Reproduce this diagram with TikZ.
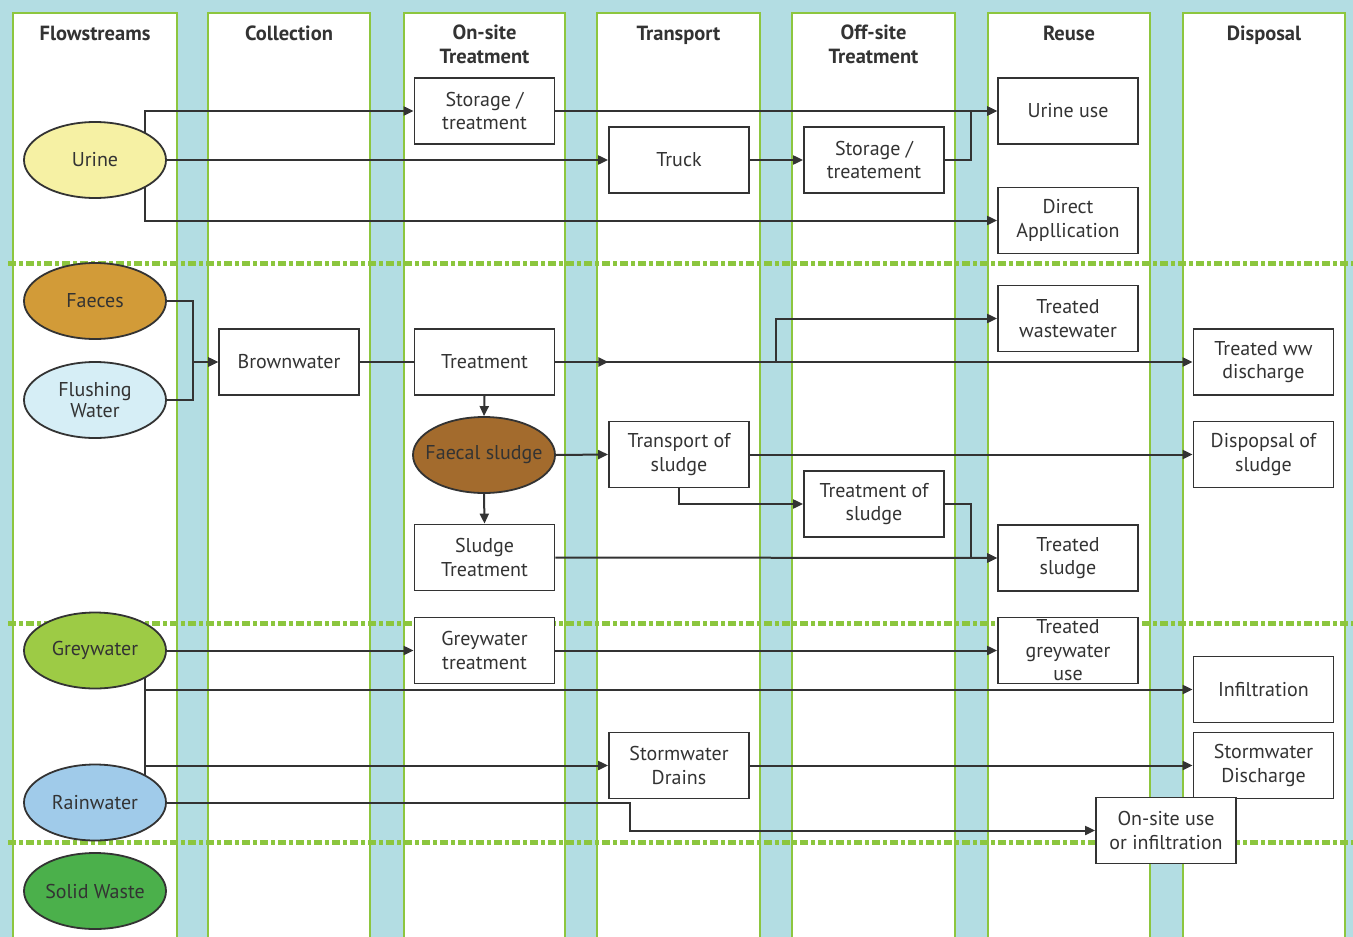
\documentclass[tikz,border=0pt]{standalone}
\usepackage{fontspec}
\setmainfont{PT Sans}
\usetikzlibrary{arrows.meta,shapes.geometric}
\definecolor{bgblue}{HTML}{B3DDE3}
\definecolor{colgreen}{HTML}{8DC63F}
\definecolor{dashgreen}{HTML}{8CC63E}
\definecolor{ink}{HTML}{333333}
\definecolor{urinec}{HTML}{F6F1A4}
\definecolor{faecesc}{HTML}{D29B38}
\definecolor{flushc}{HTML}{D6EEF6}
\definecolor{greyc}{HTML}{9DCB45}
\definecolor{rainc}{HTML}{A0CBEA}
\definecolor{solidc}{HTML}{4BB04B}
\definecolor{sludgec}{HTML}{A36B2D}
\pgfdeclarelayer{bg}\pgfdeclarelayer{lines}
\pgfsetlayers{bg,lines,main}
\tikzset{
  col/.style={fill=white, draw=colgreen, line width=2pt},
  sepline/.style={draw=dashgreen, line width=5pt, dash pattern=on 8pt off 3pt on 4pt off 3pt},
  hdr/.style={font=\bfseries\fontsize{20.5}{24}\selectfont, text=ink, align=center, inner sep=0pt, execute at begin node=\strut},
  box/.style={draw=ink, fill=white, line width=1.8pt, minimum width=140pt, minimum height=66pt, inner sep=0pt, align=center, text=ink, font=\fontsize{20}{23.5}\selectfont},
  flow/.style={ellipse, draw=ink, line width=1.8pt, minimum width=142pt, minimum height=76pt, inner sep=0pt, align=center, text=ink, font=\fontsize{20}{21}\selectfont},
  conn/.style={draw=ink, line width=2pt},
  arr/.style={conn, -{Triangle[length=10pt,width=9pt]}}
}
\begin{document}
\begin{tikzpicture}[x=1pt,y=-1pt]
\useasboundingbox (0,0) rectangle (1353,937);
\begin{pgfonlayer}{bg}
\clip (0,0) rectangle (1353,937);
\fill[bgblue] (0,0) rectangle (1353,937);
\foreach \l/\r in {13/177,208/370,404/565,597/760,792/955,988/1150,1183/1345}{
  \path[col] (\l,13) rectangle (\r,950);
}
\foreach \yy in {263,623,842}{
  \draw[sepline] (8,\yy) -- (1353,\yy);
}
\end{pgfonlayer}

% headers
\node[hdr] (h1) at (95,35.5) {Flowstreams};
\node[hdr] (h2) at (289,35.5) {Collection};
\node[hdr] (h3) at (484.5,48) {On-site\\Treatment};
\node[hdr] (h4) at (678.5,35.5) {Transport};
\node[hdr] (h5) at (873.5,48) {Off-site\\Treatment};
\node[hdr] (h6) at (1069,35.5) {Reuse};
\node[hdr] (h7) at (1264,35.5) {Disposal};

% flowstreams
\node[flow, fill=urinec] (urine) at (95,160) {Urine};
\node[flow, fill=faecesc] (faeces) at (95,301) {Faeces};
\node[flow, fill=flushc] (flush) at (95,400) {Flushing\\Water};
\node[flow, fill=greyc] (grey) at (95,650.5) {Greywater};
\node[flow, fill=rainc] (rain) at (95,802.5) {Rainwater};
\node[flow, fill=solidc] (solid) at (95,891) {Solid Waste};
\node[flow, fill=sludgec, inner xsep=-10pt] (fs) at (484,455) {Faecal sludge};

% boxes
\node[box] (st1) at (484.5,111) {Storage /\\treatment};
\node[box] (truck) at (679,160) {Truck};
\node[box] (st2) at (874,160) {Storage /\\treatement};
\node[box] (uu) at (1068,111) {Urine use};
\node[box] (da) at (1068,220.5) {Direct\\Appllication};
\node[box] (brown) at (289,362) {Brownwater};
\node[box] (treat) at (484.5,362) {Treatment};
\node[box] (tw) at (1068,318.5) {Treated\\wastewater};
\node[box] (twwd) at (1263.5,362) {Treated ww\\discharge};
\node[box] (tos) at (679,454.5) {Transport of\\sludge};
\node[box] (dos) at (1263.5,454.5) {Dispopsal of\\sludge};
\node[box] (trs) at (874,504) {Treatment of\\sludge};
\node[box] (slt) at (484.5,557.5) {Sludge\\Treatment};
\node[box] (tsl) at (1068,558) {Treated\\sludge};
\node[box] (gwt) at (484.5,650.5) {Greywater\\treatment};
\node[box] (tgu) at (1068,650.5) {Treated\\greywater\\use};
\node[box] (inf) at (1263.5,689.5) {Infiltration};
\node[box] (swd) at (679,765.5) {Stormwater\\Drains};
\node[box] (swdis) at (1263.5,765.5) {Stormwater\\Discharge};
\node[box] (osu) at (1166,830.5) {On-site use\\or infiltration};

\begin{pgfonlayer}{lines}
% urine
\draw[arr] ([xshift=50pt]urine.center) |- (st1.west);
\draw[arr] ([xshift=50pt]urine.center) |- (da.west);
\draw[arr] (urine.east) -- (truck.west);
\draw[arr] (truck.east) -- (st2.west);
\draw[arr] (st1.east) -- (uu.west);
\draw[arr] (st2.east) -- ++(26,0) |- (uu.west);
% faeces
\draw[arr] (faeces.east) -- ++(26,0) |- (brown.west);
\draw[arr] (flush.east) -- ++(26,0) |- (brown.west);
\draw[conn] (brown.east) -- (treat.west);
\draw[arr] (treat.east) -- (twwd.west);
\draw[arr] (treat.east) -- ++(53,0);
\draw[arr] (treat.east) ++(221,0) |- (tw.west);
\draw[arr] (treat.south) -- (fs.north);
\draw[arr] (fs.south) -- (slt.north);
\draw[arr] (fs.east) -- (tos.west);
\draw[arr] (tos.east) -- (dos.west);
\draw[arr] (tos.south) |- (trs.west);
\draw[arr] (trs.east) -- ++(26,0) |- (tsl.west);
\draw[arr] (slt.east) -- (tsl.west);
% greywater / rainwater
\draw[arr] (grey.east) -- (gwt.west);
\draw[arr] (gwt.east) -- (tgu.west);
\draw[conn] ([xshift=50pt]grey.center) -- ([xshift=50pt]rain.center);
\draw[arr] ([xshift=50pt]grey.center) |- (inf.west);
\draw[arr] ([xshift=50pt]rain.center) |- (swd.west);
\draw[arr] (swd.east) -- (swdis.west);
\draw[arr] (rain.east) -- ++(463,0) |- (osu.west);
\end{pgfonlayer}
\end{tikzpicture}
\end{document}
